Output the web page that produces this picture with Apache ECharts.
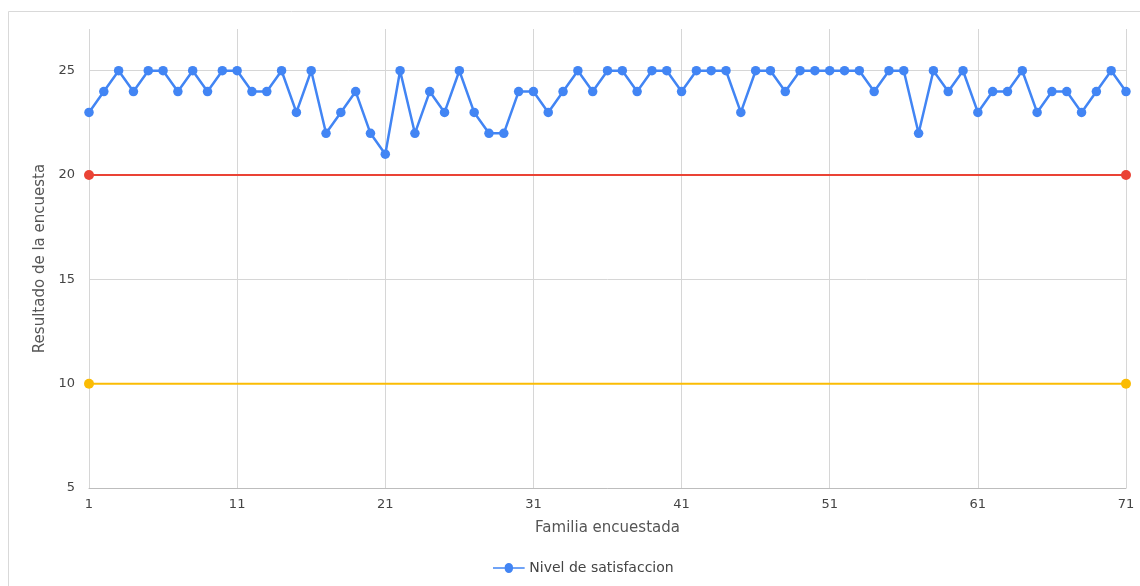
<!DOCTYPE html>
<html>
<head>
<meta charset="utf-8">
<script src="https://cdn.jsdelivr.net/npm/echarts@6/dist/echarts.min.js"></script>
<style>
html,body{margin:0;padding:0;background:#fff;}
#chart{width:1140px;height:586px;}
</style>
</head>
<body>
<div id="chart"></div>
<script>
const categories = ['1','2','3','4','5','6','7','8','9','10','11','12','13','14','15','16','17','18','19','20','21','22','23','24','25','26','27','28','29','30','31','32','33','34','35','36','37','38','39','40','41','42','43','44','45','46','47','48','49','50','51','52','53','54','55','56','57','58','59','60','61','62','63','64','65','66','67','68','69','70','71'];
const satisfaction = [23,24,25,24,25,25,24,25,24,25,25,24,24,25,23,25,22,23,24,22,21,25,22,24,23,25,23,22,22,24,24,23,24,25,24,25,25,24,25,25,24,25,25,25,23,25,25,24,25,25,25,25,25,24,25,25,22,25,24,25,23,24,24,25,23,24,24,23,24,25,24];
const upperLimit = [['1',20],['71',20]];
const lowerLimit = [['1',10],['71',10]];
const yTicks = [5,10,15,20,25];

const chart = echarts.init(document.getElementById('chart'), null, {renderer:'canvas'});
const font = 'DejaVu Sans, Liberation Sans, sans-serif';
chart.setOption({
  animation:false,
  backgroundColor:'#fff',
  textStyle:{fontFamily:font},
  graphic:[{type:'rect',shape:{x:8.5,y:11.5,width:1200,height:700},style:{fill:'none',stroke:'#d9d9d9',lineWidth:1},silent:true}],
  grid:{left:89,right:14,top:29,bottom:98},
  legend:{
    data:['Nivel de satisfaccion'],
    bottom:6,left:488,
    itemWidth:37,itemHeight:10,itemGap:10,
    textStyle:{color:'#444',fontSize:14,fontFamily:font,padding:[0,0,0,-3]},
    icon:'path://M0,4 L14,4 A5,5 0 0 1 24,4 L38,4 L38,6 L24,6 A5,5 0 0 1 14,6 L0,6 Z'
  },
  xAxis:{
    type:'category',data:categories,boundaryGap:false,
    name:'Familia encuestada',nameLocation:'middle',nameGap:33,
    nameTextStyle:{color:'#555',fontSize:15,fontFamily:font},
    axisLine:{show:true,lineStyle:{color:'#bdbdbd',width:1}},
    axisTick:{show:false},
    axisLabel:{interval:9,color:'#444',fontSize:13,margin:10,fontFamily:font},
    splitLine:{show:true,interval:9,lineStyle:{color:'#d6d6d6',width:1}}
  },
  yAxis:{
    type:'value',min:5,max:27,interval:5,
    name:'Resultado de la encuesta',nameLocation:'middle',nameGap:39,
    nameTextStyle:{color:'#555',fontSize:15,fontFamily:font},
    axisLine:{show:false},
    axisTick:{show:false},
    axisLabel:{color:'#444',fontSize:13,margin:14,fontFamily:font,showMaxLabel:false,
      formatter:function(v){return yTicks.indexOf(v)>=0?String(v):'';}},
    splitLine:{show:true,lineStyle:{color:['#d6d6d6','#d6d6d6','#d6d6d6','#d6d6d6','#d6d6d6','rgba(0,0,0,0)'],width:1}}
  },
  series:[
    {name:'Límite superior',type:'line',data:upperLimit,symbol:'circle',symbolSize:10,
      lineStyle:{color:'#ea4335',width:2},itemStyle:{color:'#ea4335'},z:2},
    {name:'Límite inferior',type:'line',data:lowerLimit,symbol:'circle',symbolSize:10,
      lineStyle:{color:'#fbbc04',width:2},itemStyle:{color:'#fbbc04'},z:2},
    {name:'Nivel de satisfaccion',type:'line',data:satisfaction,symbol:'circle',symbolSize:9.5,
      showAllSymbol:true,
      lineStyle:{color:'#4285f4',width:2.5},itemStyle:{color:'#4285f4'},z:3}
  ]
});
</script>
</body>
</html>
